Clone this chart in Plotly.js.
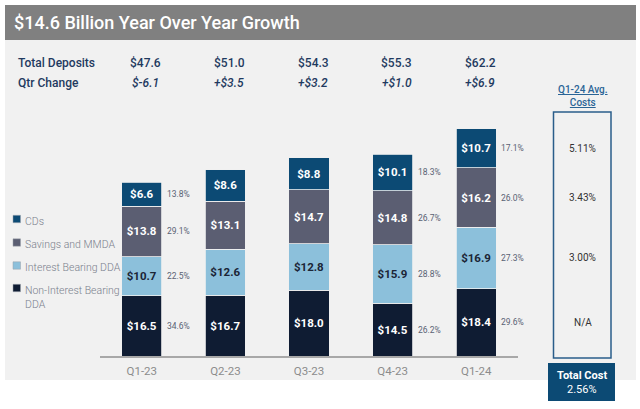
<!DOCTYPE html>
<html>
<head>
<meta charset="utf-8">
<script src="https://cdn.plot.ly/plotly-3.0.1.min.js"></script>
<style>html,body{margin:0;padding:0;background:#fff}#chart{width:640px;height:409px}</style>
</head>
<body>
<div id="chart"></div>
<script>
// ---- data ----
var quarters = ['Q1-23', 'Q2-23', 'Q3-23', 'Q4-23', 'Q1-24'];
var seriesNames = ['Non-Interest Bearing DDA', 'Interest Bearing DDA', 'Savings and MMDA', 'CDs'];
var legendLabels = ['Non-Interest Bearing<br>DDA', 'Interest Bearing DDA', 'Savings and MMDA', 'CDs'];
var nonInterestDDA = [16.5, 16.7, 18.0, 14.5, 18.4];
var interestDDA = [10.7, 12.6, 12.8, 15.9, 16.9];
var savingsMMDA = [13.8, 13.1, 14.7, 14.8, 16.2];
var cds = [6.6, 8.6, 8.8, 10.1, 10.7];
var pctNonInterest = [34.6, null, null, 26.2, 29.6];
var pctInterest = [22.5, null, null, 28.8, 27.3];
var pctSavings = [29.1, null, null, 26.7, 26.0];
var pctCDs = [13.8, null, null, 18.3, 17.1];
var totalDeposits = ['$47.6', '$51.0', '$54.3', '$55.3', '$62.2'];
var qtrChange = ['$-6.1', '+$3.5', '+$3.2', '+$1.0', '+$6.9'];
var avgCosts = ['N/A', '3.00%', '3.43%', '5.11%'];
var totalCost = '2.56%';

// ---- styling ----
var colors = ['#0f1c33', '#8cc0db', '#5b5e72', '#0c4a74'];
var textColors = ['#ffffff', '#1b2536', '#ffffff', '#ffffff'];
var W = 640, H = 409, ML = 100, MR = 122, MT = 100, MB = 53;
var PW = W - ML - MR, PH = H - MT - MB;
function px(x) { return (x - ML) / PW; }
function py(y) { return 1 - (y - MT) / PH; }
var FONT = 'Roboto, "Noto Sans", sans-serif';

var values = [nonInterestDDA, interestDDA, savingsMMDA, cds];
var pcts = [pctNonInterest, pctInterest, pctSavings, pctCDs];

var traces = values.map(function (v, i) {
  return {
    type: 'bar',
    name: seriesNames[i],
    x: quarters,
    y: v,
    text: v.map(function (d) { return '$' + d.toFixed(1); }),
    textposition: 'inside',
    insidetextanchor: 'middle',
    textangle: 0,
    textfont: { family: FONT, size: 11.5, color: textColors[i], weight: 700 },
    marker: { color: colors[i], line: { color: '#f0f0f0', width: 0.8 } },
    hoverinfo: 'skip',
    showlegend: false
  };
});

var annotations = [];
var shapes = [];

// background panels
shapes.push({ type: 'rect', xref: 'paper', yref: 'paper', x0: px(5), x1: px(636), y0: py(5), y1: py(40), fillcolor: '#808080', line: { width: 0 }, layer: 'below' });
shapes.push({ type: 'rect', xref: 'paper', yref: 'paper', x0: px(5), x1: px(636), y0: py(40), y1: py(380), fillcolor: '#f1f1f1', line: { width: 0 }, layer: 'below' });

// title
annotations.push({ xref: 'paper', yref: 'paper', x: px(12), y: py(22), xanchor: 'left', yanchor: 'middle', showarrow: false,
  text: '$14.6 Billion Year Over Year Growth', font: { family: FONT, size: 18, color: '#ffffff', weight: 500 } });

// header rows
annotations.push({ xref: 'paper', yref: 'paper', x: px(16), y: py(63), xanchor: 'left', yanchor: 'middle', showarrow: false,
  text: 'Total Deposits', font: { family: FONT, size: 12, color: '#1f3a60', weight: 500 } });
annotations.push({ xref: 'paper', yref: 'paper', x: px(16), y: py(83), xanchor: 'left', yanchor: 'middle', showarrow: false,
  text: 'Qtr Change', font: { family: FONT, size: 12, color: '#1f3a60', weight: 500 } });
quarters.forEach(function (q, k) {
  annotations.push({ xref: 'x', yref: 'paper', x: q, xshift: 4, y: py(63), xanchor: 'center', yanchor: 'middle', showarrow: false,
    text: totalDeposits[k], font: { family: FONT, size: 12, color: '#1f3a60', weight: 500 } });
  annotations.push({ xref: 'x', yref: 'paper', x: q, xshift: 4, y: py(83), xanchor: 'center', yanchor: 'middle', showarrow: false,
    text: qtrChange[k], font: { family: FONT, size: 12, color: '#1f3a60', style: 'italic', weight: 500 } });
});

// percentage labels beside segments
quarters.forEach(function (q, k) {
  var base = 0;
  values.forEach(function (v, i) {
    var mid = base + v[k] / 2;
    base += v[k];
    if (pcts[i][k] !== null) {
      annotations.push({ xref: 'x', yref: 'y', x: q, y: mid, xshift: 23, xanchor: 'left', yanchor: 'middle', showarrow: false,
        text: pcts[i][k].toFixed(1) + '%', font: { family: FONT, size: 8.5, color: '#5a6274' } });
    }
  });
});

// legend (manual)
var legendY = [288, 265.5, 242.5, 219];
for (var i = 3; i >= 0; i--) {
  shapes.push({ type: 'rect', xref: 'paper', yref: 'paper', x0: px(13), x1: px(20.5), y0: py(legendY[i] - 3.7), y1: py(legendY[i] + 3.7),
    fillcolor: colors[i], line: { color: '#9aa0aa', width: 0.5 } });
  annotations.push({ xref: 'paper', yref: 'paper', x: px(23), y: py(legendY[i] - 6.5), xanchor: 'left', yanchor: 'top', align: 'left', showarrow: false,
    text: legendLabels[i], font: { family: FONT, size: 10.5, color: '#7a808c', weight: 300 } });
}

// average costs box
annotations.push({ xref: 'paper', yref: 'paper', x: px(583), y: py(96), xanchor: 'center', yanchor: 'middle', showarrow: false,
  text: '<span style="text-decoration:underline">Q1-24 Avg.</span><br><span style="text-decoration:underline">Costs</span>',
  font: { family: FONT, size: 10, color: '#2a6496', weight: 500 } });
shapes.push({ type: 'rect', xref: 'paper', yref: 'paper', x0: px(553.5), x1: px(611), y0: py(112), y1: py(358),
  line: { color: '#2a5d8a', width: 1.5 }, fillcolor: 'rgba(0,0,0,0)' });
var last = quarters.length - 1, b = 0;
values.forEach(function (v, i) {
  var mid = b + v[last] / 2; b += v[last];
  annotations.push({ xref: 'paper', yref: 'y', x: px(582.5), y: mid, xanchor: 'center', yanchor: 'middle', showarrow: false,
    text: avgCosts[i], font: { family: FONT, size: 10, color: '#333333' } });
});
shapes.push({ type: 'rect', xref: 'paper', yref: 'paper', x0: px(548), x1: px(615), y0: py(363), y1: py(401),
  fillcolor: '#0c4a74', line: { width: 0 } });
annotations.push({ xref: 'paper', yref: 'paper', x: px(581.5), y: py(375), xanchor: 'center', yanchor: 'middle', showarrow: false,
  text: 'Total Cost', font: { family: FONT, size: 11, color: '#ffffff', weight: 700 } });
annotations.push({ xref: 'paper', yref: 'paper', x: px(581.5), y: py(389.5), xanchor: 'center', yanchor: 'middle', showarrow: false,
  text: totalCost, font: { family: FONT, size: 11, color: '#ffffff' } });

var layout = {
  width: W, height: H,
  margin: { l: ML, r: MR, t: MT, b: MB, pad: 0 },
  paper_bgcolor: '#ffffff',
  plot_bgcolor: 'rgba(0,0,0,0)',
  barmode: 'stack',
  bargap: 0.52,
  showlegend: false,
  xaxis: { type: 'category', range: [-0.5, 4.5], showline: true, linecolor: '#a8a8a8', linewidth: 1.5,
    ticks: '', showgrid: false, zeroline: false, fixedrange: true, ticklabelstandoff: 4,
    tickfont: { family: FONT, size: 11.5, color: '#8c8c8c' } },
  yaxis: { range: [0, 70.1], visible: false, showgrid: false, zeroline: false, fixedrange: true },
  shapes: shapes,
  annotations: annotations
};

Plotly.newPlot('chart', traces, layout, { displayModeBar: false, staticPlot: true });
</script>
</body>
</html>
